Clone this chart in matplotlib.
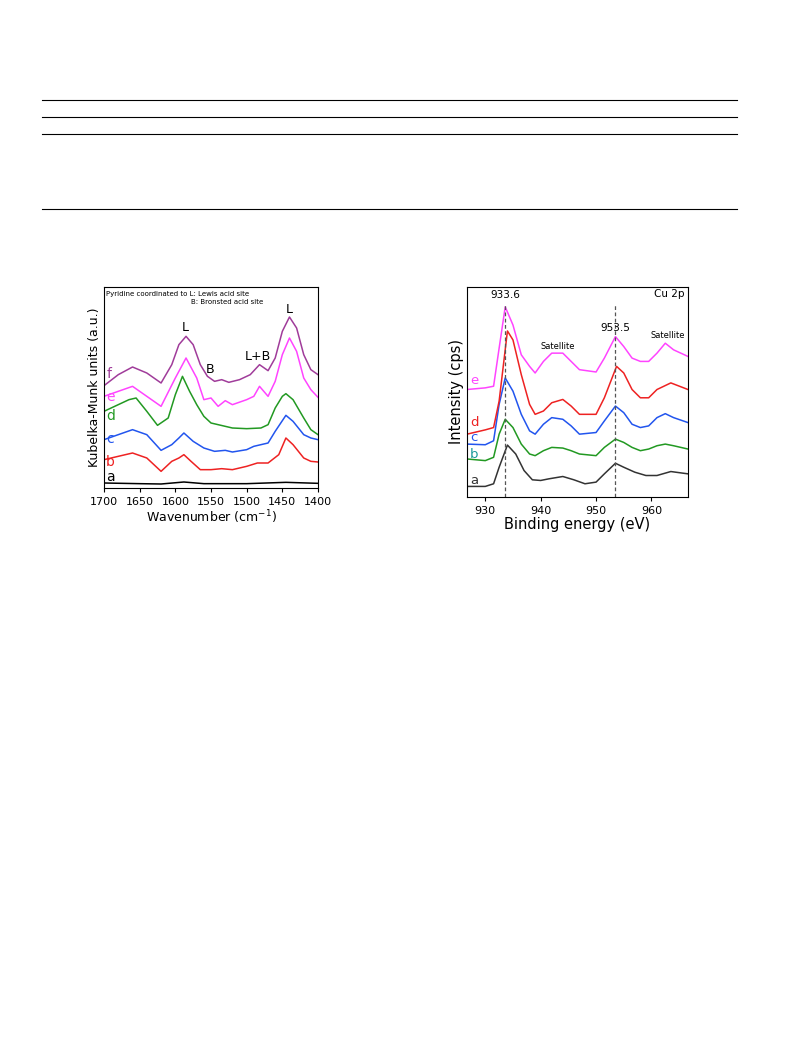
import matplotlib
matplotlib.use("Agg")
import matplotlib.pyplot as plt
from matplotlib.lines import Line2D

# ---- left panel: pyridine IR (heights in arbitrary units) ----
ir_f_x = [1700, 1680, 1660, 1640, 1620, 1605, 1595, 1585, 1575, 1565, 1555, 1545, 1535, 1525, 1510, 1495, 1482, 1470, 1460, 1450, 1440, 1430, 1420, 1410, 1400]
ir_f_y = [307, 340, 363, 345, 315, 370, 430, 455, 430, 370, 335, 320, 325, 317, 325, 340, 370, 352, 390, 470, 513, 480, 400, 355, 340]
ir_e_x = [1700, 1660, 1620, 1600, 1585, 1570, 1560, 1550, 1540, 1530, 1520, 1500, 1490, 1482, 1470, 1460, 1450, 1440, 1430, 1420, 1410, 1400]
ir_e_y = [275, 305, 245, 330, 390, 330, 265, 270, 245, 262, 250, 265, 275, 305, 275, 320, 400, 450, 410, 330, 295, 272]
ir_d_x = [1700, 1665, 1655, 1640, 1625, 1610, 1600, 1590, 1580, 1570, 1560, 1550, 1540, 1520, 1500, 1480, 1470, 1460, 1450, 1445, 1435, 1420, 1410, 1400]
ir_d_y = [230, 265, 270, 230, 188, 210, 280, 335, 290, 250, 215, 195, 190, 180, 178, 180, 190, 240, 275, 283, 265, 210, 175, 160]
ir_c_x = [1700, 1660, 1640, 1620, 1605, 1595, 1588, 1575, 1560, 1545, 1530, 1520, 1500, 1490, 1480, 1470, 1460, 1445, 1435, 1420, 1410, 1400]
ir_c_y = [145, 175, 160, 113, 130, 150, 165, 140, 120, 110, 113, 108, 115, 125, 130, 135, 170, 218, 200, 160, 150, 145]
ir_b_x = [1700, 1660, 1640, 1620, 1605, 1595, 1588, 1578, 1565, 1550, 1535, 1520, 1500, 1485, 1470, 1455, 1445, 1435, 1420, 1410, 1400]
ir_b_y = [85, 105, 90, 50, 80, 90, 100, 80, 55, 55, 58, 55, 65, 75, 75, 100, 150, 130, 90, 80, 78]
ir_a_x = [1700, 1650, 1620, 1588, 1560, 1500, 1445, 1400]
ir_a_y = [15, 13, 12, 18, 13, 13, 17, 14]
ir_labels = ['a', 'b', 'c', 'd', 'e', 'f']
ir_label_y = [33, 77, 147, 215, 273, 343]

# ---- right panel: Cu 2p XPS (depths counted from axis top, flipped below) ----
xps_e_x = [926.7, 930, 931.5, 932.5, 933.6, 935, 936.5, 938, 939, 940.5, 942, 944, 945.5, 947, 950, 951.5, 953.5, 955, 956.5, 958, 959.5, 961, 962.5, 964, 966.6]
xps_e_d = [325, 320, 315, 200, 75, 130, 220, 255, 275, 240, 215, 215, 240, 265, 272, 230, 165, 195, 230, 240, 240, 215, 185, 205, 225]
xps_d_x = [926.7, 930, 931.5, 932.5, 934, 935, 936.5, 938, 939, 940.5, 942, 944, 945.5, 947, 950, 951.5, 953.7, 955, 956.5, 958, 959.5, 961, 963.5, 966.6]
xps_d_d = [460, 447, 440, 360, 148, 175, 280, 370, 400, 390, 365, 355, 375, 400, 400, 350, 255, 275, 325, 350, 350, 325, 305, 325]
xps_c_x = [926.7, 930, 931.5, 932.5, 933.6, 935, 936.5, 938, 939, 940.5, 942, 944, 945.5, 947, 950, 951.5, 953.5, 955, 956.5, 958, 959.5, 961, 962.5, 964, 966.6]
xps_c_d = [490, 492, 480, 370, 290, 330, 400, 450, 460, 430, 410, 415, 435, 460, 455, 420, 375, 395, 430, 440, 435, 410, 398, 410, 425]
xps_b_x = xps_c_x
xps_b_d = [535, 540, 530, 460, 415, 440, 490, 520, 525, 510, 500, 502, 510, 520, 525, 500, 475, 485, 500, 510, 505, 495, 490, 495, 505]
xps_a_x = [926.7, 930, 931.5, 932.5, 934, 935.5, 937, 938.5, 940, 941.5, 944, 946, 948, 950, 951.5, 953.5, 955, 957, 959, 961, 963.5, 966.6]
xps_a_d = [618, 618, 610, 560, 493, 520, 570, 598, 600, 595, 588, 598, 610, 605, 580, 548, 560, 575, 585, 585, 573, 580]
xps_labels = ['a', 'b', 'c', 'd', 'e']
xps_label_y = [50, 130, 180, 224, 353]

W, H = 793, 1057
fig = plt.figure(figsize=(W / 100, H / 100), dpi=100)

# table rules at top of page
for yy in [100, 117, 134, 209]:
    fig.add_artist(Line2D([42 / W, 737 / W], [1 - yy / H, 1 - yy / H], color='black', lw=0.8))

# left panel
ax1 = fig.add_axes([104 / W, 1 - 488 / H, 214 / W, 201 / H])
ir_series = [(ir_a_x, ir_a_y, 'black'), (ir_b_x, ir_b_y, '#ee2222'),
             (ir_c_x, ir_c_y, '#2255ee'), (ir_d_x, ir_d_y, '#229922'),
             (ir_e_x, ir_e_y, '#ff44ff'), (ir_f_x, ir_f_y, '#a03c9a')]
for (xs, ys, c), lab, ly in zip(ir_series, ir_labels, ir_label_y):
    ax1.plot(xs, ys, color=c, lw=1.1)
    ax1.text(1697, ly, lab, color=c, fontsize=10, ha='left', va='center')
ax1.set_xlim(1700, 1400)
ax1.set_ylim(0, 603)
ax1.set_yticks([])
ax1.set_xticks([1700, 1650, 1600, 1550, 1500, 1450, 1400])
ax1.tick_params(labelsize=8, length=3, direction='out')
ax1.set_xlabel('Wavenumber (cm$^{-1}$)', fontsize=9, labelpad=1)
ax1.set_ylabel('Kubelka-Munk units (a.u.)', fontsize=9, labelpad=2)
ax1.text(1697, 590, 'Pyridine coordinated to L: Lewis acid site', fontsize=5, va='top')
ax1.text(1578, 567, 'B: Bronsted acid site', fontsize=5, va='top')
ax1.text(1586, 470, 'L', fontsize=9, ha='center')
ax1.text(1440, 525, 'L', fontsize=9, ha='center')
ax1.text(1552, 345, 'B', fontsize=9, ha='center')
ax1.text(1484, 385, 'L+B', fontsize=9, ha='center')

# right panel
ax2 = fig.add_axes([467 / W, 1 - 497 / H, 221 / W, 210 / H])
xps_series = [(xps_a_x, xps_a_d, '#333333', '#333333'), (xps_b_x, xps_b_d, '#229922', '#1a9a9a'),
              (xps_c_x, xps_c_d, '#2255ee', '#2255ee'), (xps_d_x, xps_d_d, '#ee2222', '#ee2222'),
              (xps_e_x, xps_e_d, '#ff44ff', '#ff44ff')]
for (xs, ds, c, tc), lab, ly in zip(xps_series, xps_labels, xps_label_y):
    ax2.plot(xs, [650 - d for d in ds], color=c, lw=1.1)
    ax2.text(927.2, ly, lab, color=tc, fontsize=9.5, ha='left', va='center')
for xv in [933.6, 953.5]:
    ax2.plot([xv, xv], [0, 585], color='#555555', lw=0.9, ls=(0, (3, 2)))
ax2.text(933.6, 595, '933.6', fontsize=7.5, ha='center', va='bottom')
ax2.text(953.5, 495, '953.5', fontsize=7.5, ha='center', va='bottom')
ax2.text(943, 440, 'Satellite', fontsize=6, ha='center', va='bottom')
ax2.text(963, 475, 'Satellite', fontsize=6, ha='center', va='bottom')
ax2.text(966, 615, 'Cu 2p', fontsize=7.5, ha='right', va='center')
ax2.set_xlim(926.7, 966.6)
ax2.set_ylim(0, 635)
ax2.set_yticks([])
ax2.set_xticks([930, 940, 950, 960])
ax2.tick_params(labelsize=8, length=3, direction='out')
ax2.set_xlabel('Binding energy (eV)', fontsize=10.5, labelpad=1)
ax2.set_ylabel('Intensity (cps)', fontsize=10.5, labelpad=2)

fig.savefig('out.png', dpi=100)
